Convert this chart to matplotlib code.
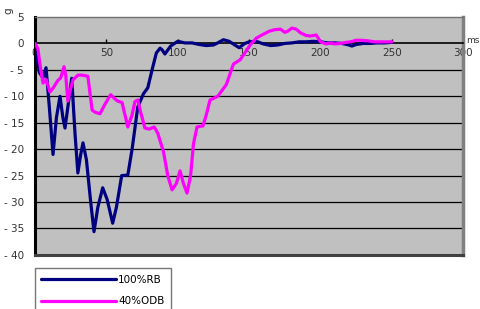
import matplotlib
matplotlib.use("Agg")
import matplotlib.pyplot as plt
import matplotlib.transforms as mtransforms

# 100%RB trace (time in ms, value in g)
rb_ms = [0, 3, 5.5, 7.7, 10, 12.6, 15, 17.5, 19.5, 21, 23, 25.7, 28, 30, 32, 33.6,
         36, 39, 41.3, 44, 47.4, 50.5, 54.4, 57, 60.7, 65, 68, 72, 76, 79, 82, 85,
         87.6, 89, 91, 95, 100, 105, 110, 115, 120, 125, 128, 132, 136, 140, 143,
         147, 150, 155, 160, 165, 170, 175, 180, 185, 190, 195, 200, 205, 210, 215,
         220, 222, 225, 230, 235, 240, 245, 250]
rb_g = [0, -5.5, -6.5, -4.6, -12, -21, -14, -10, -14, -16, -12, -6.6, -17, -24.5, -21, -18.8,
        -22, -30, -35.6, -31, -27.3, -29.5, -34, -31, -25, -24.9, -20, -12, -9.5, -8.4, -5, -1.8,
        -0.9, -1.2, -2, -0.5, 0.4, 0.1, 0.1, -0.2, -0.4, -0.3, 0.1, 0.7, 0.4, -0.3, -0.8,
        0, 0.3, 0.4, -0.1, -0.4, -0.3, 0, 0.1, 0.3, 0.3, 0.4, 0.3, 0.1, 0.1, 0,
        -0.3, -0.5, -0.2, 0, 0, 0.1, 0.1, 0.2]

# 40%ODB trace
odb_ms = [0, 2, 4, 5.6, 7.7, 10.5, 13, 16, 18, 20.3, 21.5, 23, 25, 26.6, 30, 33, 37,
          40, 42, 45.5, 49, 53, 56, 58, 61, 63, 65, 68, 70, 72, 74, 77, 80, 83.5, 86,
          90, 93, 96, 99, 101.6, 104, 106.5, 109, 111, 113.5, 117.7, 120, 122.6, 128,
          134, 139, 143.7, 147, 150.7, 155, 159, 164, 168, 172, 175, 177, 180, 183,
          186, 190, 193, 197, 200, 204, 207, 210, 214, 218, 221, 225, 228, 233, 238,
          245, 250]
odb_g = [0, -1, -5, -7.5, -6.8, -9.2, -8.3, -7, -6.5, -4.4, -6, -10.9, -8.5, -6.9, -6, -6, -6.2,
         -12.6, -13, -13.3, -11.5, -9.7, -10.5, -10.9, -11.2, -13.5, -15.8, -13.5, -11, -10.7, -13, -16, -16.2, -15.8, -17,
         -20.5, -25, -27.7, -26.5, -24.1, -26.5, -28.3, -25, -19, -15.8, -15.6, -13.5, -10.7, -10,
         -7.8, -3.9, -3.1, -1.8, -0.3, 1, 1.6, 2.3, 2.6, 2.7, 2.1, 2.3, 2.9, 2.7,
         2, 1.5, 1.4, 1.6, 0.3, -0.1, 0.1, -0.1, 0, 0.2, 0.3, 0.6, 0.6, 0.5, 0.3,
         0.3, 0.3]

x_ticks = [0, 50, 100, 150, 200, 250, 300]
y_ticks = [-40, -35, -30, -25, -20, -15, -10, -5, 0, 5]
y_labels = ["- 40", "- 35", "- 30", "- 25", "- 20", "- 15", "- 10", "- 5", "0", "5"]

fig = plt.figure(figsize=(4.8, 3.09), dpi=100)
ax = fig.add_axes([0.073, 0.175, 0.892, 0.77])
ax.set_facecolor("#C0C0C0")

for y in y_ticks[1:-2]:
    ax.axhline(y, color="black", lw=0.9, zorder=1)

ax.plot(rb_ms, rb_g, color="#000080", lw=2.3, solid_joinstyle="round",
        solid_capstyle="round", label="100%RB", zorder=3)
ax.plot(odb_ms, odb_g, color="#FF00FF", lw=2.3, solid_joinstyle="round",
        solid_capstyle="round", label="40%ODB", zorder=4)

ax.set_xlim(0, 300)
ax.set_ylim(-40, 5)

# x axis runs along g = 0
ax.spines["bottom"].set_position(("data", 0))
ax.spines["bottom"].set_color("black")
ax.spines["bottom"].set_linewidth(1.2)
ax.spines["left"].set_color("black")
ax.spines["left"].set_linewidth(2.2)
ax.spines["right"].set_color("#808080")
ax.spines["right"].set_linewidth(2.5)
ax.spines["top"].set_color("#707070")
ax.spines["top"].set_linewidth(1.0)
ax.plot([0, 1], [0, 0], transform=ax.transAxes, color="#404040", lw=2.2,
        clip_on=False, zorder=5)

ax.set_xticks(x_ticks)
ax.set_xticklabels([str(t) for t in x_ticks])
ax.tick_params(axis="x", direction="in", length=3, width=1, colors="black",
               labelcolor="#333333", labelsize=7.5, pad=3)
ax.set_yticks(y_ticks)
ax.set_yticklabels(y_labels)
ax.tick_params(axis="y", direction="out", length=0, labelcolor="#333333",
               labelsize=7.5, pad=8)

trans = mtransforms.blended_transform_factory(fig.transFigure, ax.transData)
fig.text(0.999, -0.3, "ms", transform=trans, fontsize=6.5, color="#333333",
         ha="right", va="bottom")
fig.text(0.018, 0.965, "g", rotation=90, fontsize=7.5, color="#333333",
         ha="center", va="center")

fig.legend(loc="upper left", bbox_to_anchor=(0.062, 0.148), frameon=True,
           fancybox=False, edgecolor="#555555", fontsize=7.5, handlelength=7.2,
           labelspacing=1.1, borderpad=0.6, handletextpad=0.2)

fig.savefig("out.png", dpi=100)
